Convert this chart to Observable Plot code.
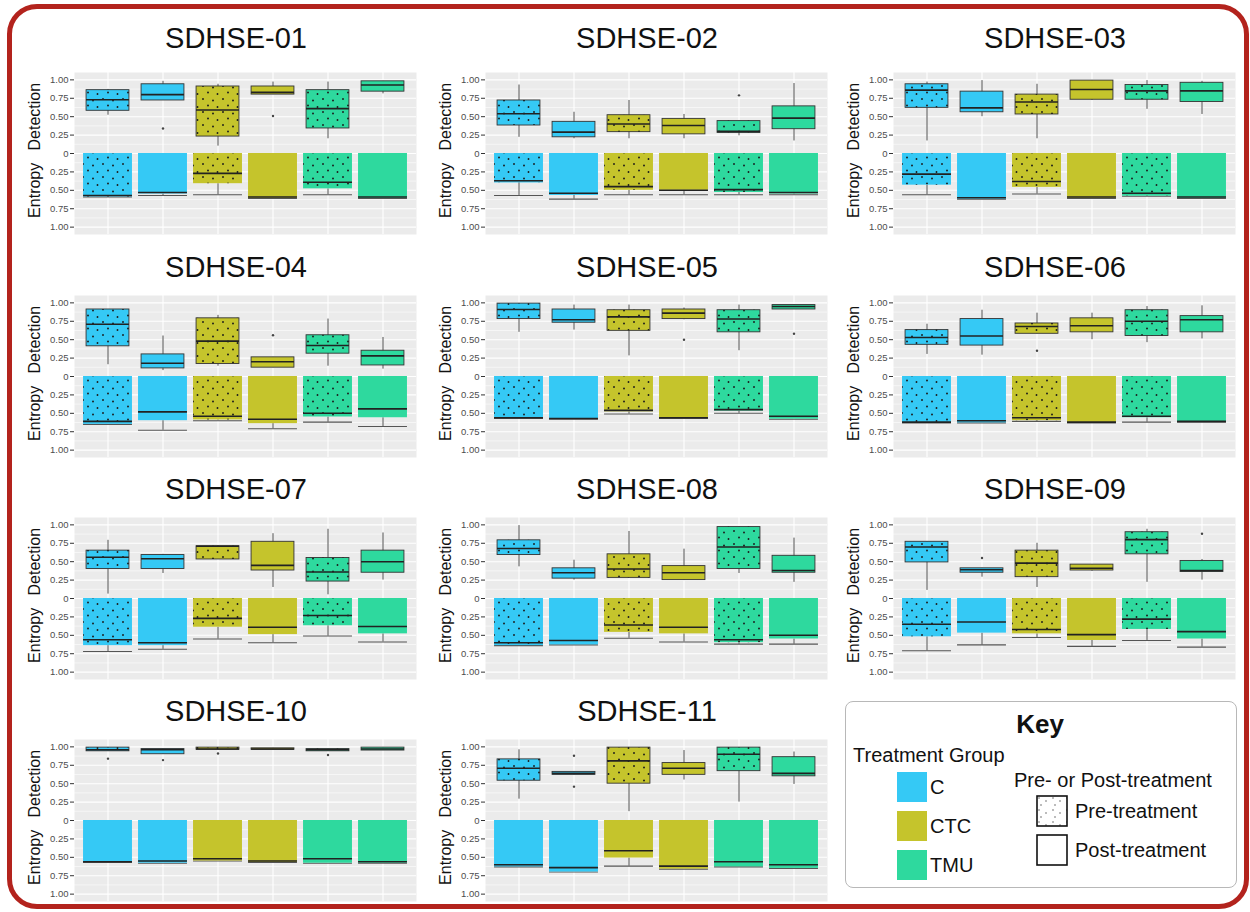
<!DOCTYPE html>
<html><head><meta charset="utf-8">
<script src="https://cdn.jsdelivr.net/npm/d3@7"></script>
<script src="https://cdn.jsdelivr.net/npm/@observablehq/plot@0.6"></script>
<style>
body{margin:0;background:#fff;font-family:"Liberation Sans",Arial,Helvetica,sans-serif;}
#page{position:relative;width:1250px;height:912px;overflow:hidden;background:#fff;}
.frame{position:absolute;left:7px;top:4px;width:1232px;height:895px;border:5px solid #b3231d;border-radius:30px;box-sizing:content-box;}
.t{position:absolute;line-height:1;white-space:nowrap;color:#111;}
.c{transform:translate(-50%,-50%);}
.l{transform:translate(0,-50%);}
.panel{position:absolute;}
.keybox{position:absolute;left:845px;top:701px;width:390px;height:185px;border:1.5px solid #b8b8b8;border-radius:8px;background:#fff;}
.sw{position:absolute;width:30px;height:30px;}
</style></head>
<body>
<svg width="0" height="0" style="position:absolute">
 <defs>
  <pattern id="dots" patternUnits="userSpaceOnUse" width="20" height="13">
   <circle cx="3" cy="3" r="0.95" fill="#1a1a1a"/>
   <circle cx="13" cy="4.5" r="0.95" fill="#1a1a1a"/>
   <circle cx="8" cy="9.5" r="0.95" fill="#1a1a1a"/>
   <circle cx="17.5" cy="11" r="0.95" fill="#1a1a1a"/>
  </pattern>
  <pattern id="keydots" patternUnits="userSpaceOnUse" width="14" height="12">
   <circle cx="3" cy="3" r="0.7" fill="#444"/>
   <circle cx="10" cy="6" r="0.7" fill="#444"/>
   <circle cx="5" cy="10" r="0.7" fill="#444"/>
  </pattern>
 </defs>
</svg>
<div id="page"><div class="frame"></div></div>
<script>
const panels = ["SDHSE-01","SDHSE-02","SDHSE-03","SDHSE-04","SDHSE-05","SDHSE-06","SDHSE-07","SDHSE-08","SDHSE-09","SDHSE-10","SDHSE-11"];
const groups = ["C","CTC","TMU"];
const groupColors = ["#35c9f5","#c5c42c","#2ed99e"];
const phases = ["Pre-treatment","Post-treatment"];
const boxKeys = ["C-pre","C-post","CTC-pre","CTC-post","TMU-pre","TMU-post"];
const majorTicks = [-1,-0.75,-0.5,-0.25,0,0.25,0.5,0.75,1];
const minorTicks = [-0.875,-0.625,-0.375,-0.125,0.125,0.375,0.625,0.875];
const axisLabels = [{y:0.5,label:"Detection"},{y:-0.5,label:"Entropy"}];

// Detection boxes: [lower whisker, Q1, median, Q3, upper whisker]
const detectionStats = [
 [[0.52,0.58,0.73,0.86,0.87],[0.72,0.72,0.80,0.94,0.98],[0.10,0.23,0.59,0.91,0.94],[0.80,0.80,0.83,0.91,0.97],[0.20,0.34,0.61,0.86,0.97],[0.81,0.84,0.93,0.98,0.98]],
 [[0.22,0.38,0.54,0.72,0.93],[0.20,0.22,0.29,0.43,0.56],[0.20,0.29,0.40,0.52,0.72],[0.20,0.26,0.38,0.47,0.53],[0.24,0.28,0.30,0.44,0.44],[0.17,0.33,0.48,0.64,0.95]],
 [[0.17,0.62,0.86,0.94,0.97],[0.50,0.56,0.62,0.84,0.99],[0.20,0.53,0.70,0.80,0.94],[0.72,0.73,0.87,0.99,0.99],[0.60,0.73,0.85,0.93,0.99],[0.53,0.70,0.85,0.96,0.98]],
 [[0.16,0.41,0.71,0.91,0.91],[0.08,0.11,0.18,0.30,0.55],[0.14,0.17,0.48,0.79,0.83],[0.12,0.12,0.20,0.26,0.26],[0.14,0.31,0.42,0.56,0.78],[0.10,0.15,0.28,0.35,0.53]],
 [[0.60,0.78,0.91,0.99,0.99],[0.63,0.73,0.77,0.91,0.97],[0.28,0.62,0.81,0.90,0.97],[0.77,0.78,0.86,0.91,0.93],[0.35,0.60,0.78,0.90,0.97],[0.91,0.91,0.95,0.97,0.97]],
 [[0.30,0.43,0.53,0.63,0.71],[0.29,0.42,0.55,0.78,0.90],[0.58,0.58,0.68,0.72,0.86],[0.50,0.60,0.69,0.79,0.86],[0.46,0.55,0.75,0.90,0.95],[0.51,0.60,0.77,0.82,0.96]],
 [[0.06,0.40,0.56,0.65,0.79],[0.34,0.40,0.54,0.59,0.60],[0.53,0.53,0.71,0.71,0.72],[0.15,0.38,0.45,0.77,0.88],[0.05,0.23,0.36,0.55,0.94],[0.25,0.35,0.50,0.65,0.89]],
 [[0.43,0.59,0.68,0.79,0.99],[0.25,0.27,0.35,0.41,0.52],[0.28,0.28,0.40,0.60,0.91],[0.25,0.25,0.35,0.44,0.67],[0.34,0.40,0.70,0.97,0.97],[0.22,0.35,0.38,0.58,0.82]],
 [[0.11,0.49,0.70,0.77,0.77],[0.29,0.35,0.39,0.41,0.41],[0.15,0.29,0.48,0.65,0.75],[0.37,0.38,0.41,0.46,0.46],[0.22,0.60,0.80,0.90,0.94],[0.25,0.36,0.38,0.51,0.53]],
 [[0.94,0.94,0.96,0.99,0.99],[0.90,0.90,0.96,0.97,0.97],[0.96,0.96,0.97,0.99,0.99],[0.96,0.96,0.97,0.98,0.98],[0.94,0.94,0.96,0.97,0.97],[0.95,0.95,0.97,0.99,0.99]],
 [[0.29,0.54,0.71,0.83,0.96],[0.62,0.62,0.64,0.66,0.66],[0.12,0.50,0.81,0.99,0.99],[0.55,0.62,0.71,0.78,0.95],[0.25,0.67,0.90,0.99,0.99],[0.49,0.60,0.64,0.86,0.93]]
];
const detectionOutliers = [
 [[],[0.34],[],[0.51],[],[]],
 [[],[],[],[],[0.79],[]],
 [[],[],[],[],[],[]],
 [[],[],[],[0.56],[],[]],
 [[],[],[],[0.50],[],[0.58]],
 [[],[],[0.35],[],[],[]],
 [[],[],[],[],[],[]],
 [[],[],[],[],[],[]],
 [[],[0.55],[],[],[],[0.88]],
 [[0.84],[0.82],[0.91],[],[0.89],[]],
 [[],[0.88,0.46],[],[],[],[]]
];
// Entropy boxes (drawn downward from 0): [median, Q3, upper whisker]
const entropyStats = [
 [[0.57,0.59,0.59],[0.53,0.55,0.57],[0.27,0.41,0.56],[0.59,0.61,0.61],[0.39,0.48,0.56],[0.59,0.61,0.61]],
 [[0.37,0.40,0.57],[0.54,0.57,0.62],[0.45,0.50,0.56],[0.50,0.50,0.56],[0.49,0.53,0.56],[0.53,0.55,0.56]],
 [[0.28,0.43,0.56],[0.60,0.62,0.62],[0.38,0.46,0.55],[0.59,0.61,0.61],[0.54,0.58,0.58],[0.59,0.61,0.61]],
 [[0.61,0.65,0.65],[0.48,0.60,0.73],[0.54,0.59,0.60],[0.58,0.64,0.71],[0.50,0.55,0.62],[0.44,0.56,0.68]],
 [[0.56,0.57,0.57],[0.57,0.58,0.58],[0.46,0.48,0.51],[0.56,0.57,0.57],[0.45,0.47,0.50],[0.54,0.58,0.58]],
 [[0.62,0.63,0.63],[0.60,0.63,0.63],[0.56,0.60,0.61],[0.62,0.63,0.63],[0.54,0.56,0.62],[0.61,0.62,0.62]],
 [[0.56,0.64,0.72],[0.60,0.64,0.69],[0.27,0.39,0.55],[0.39,0.49,0.60],[0.23,0.37,0.51],[0.38,0.48,0.59]],
 [[0.60,0.64,0.64],[0.57,0.63,0.63],[0.36,0.46,0.54],[0.39,0.48,0.59],[0.56,0.60,0.62],[0.50,0.55,0.62]],
 [[0.35,0.52,0.71],[0.32,0.47,0.63],[0.42,0.48,0.53],[0.49,0.57,0.65],[0.28,0.42,0.57],[0.45,0.55,0.66]],
 [[0.56,0.57,0.57],[0.55,0.58,0.58],[0.52,0.55,0.55],[0.55,0.57,0.57],[0.52,0.58,0.58],[0.56,0.58,0.58]],
 [[0.60,0.63,0.63],[0.64,0.70,0.70],[0.41,0.51,0.62],[0.62,0.66,0.66],[0.56,0.63,0.63],[0.60,0.65,0.65]]
];
const entropyDotted = [true,true,true,true,true,true,true,true,true,false,false];

// layout
const colLefts = [74, 485, 893];
const rowTops = [71.6, 294.6, 516.6, 738.6];
const titleYs = [38, 267, 489, 711];
const plotW = 342, plotH = 162, mL = 74, mR = 4, mT = 2, mB = 2;
const step = plotW / 6.2;
const dIn = step * 0.11, eIn = step * 0.055;
const font = '"Liberation Sans", Arial, Helvetica, sans-serif';
const page = document.getElementById("page");

function addText(txt, x, y, cls, style) {
  const d = document.createElement("div");
  d.className = "t " + cls;
  d.textContent = txt;
  d.style.left = x + "px"; d.style.top = y + "px";
  Object.assign(d.style, style || {});
  page.appendChild(d);
  return d;
}

panels.forEach((name, pi) => {
  const col = pi % 3, row = Math.floor(pi / 3);
  const det = [], out = [], ent = [];
  boxKeys.forEach((k, j) => {
    const g = groups[Math.floor(j / 2)];
    const pre = j % 2 === 0;
    const [lo, q1, med, q3, hi] = detectionStats[pi][j];
    det.push({key: k, group: g, pre, lo, q1, med, q3, hi});
    detectionOutliers[pi][j].forEach(v => out.push({key: k, v}));
    const [em, eq3, emax] = entropyStats[pi][j];
    ent.push({key: k, group: g, pre, med: -em, q3: -eq3, max: -emax, zero: 0});
  });
  const detPre = det.filter(d => d.pre);
  const entPre = entropyDotted[pi] ? ent.filter(d => d.pre) : [];

  const svg = Plot.plot({
    width: mL + plotW + mR, height: plotH + mT + mB,
    marginLeft: mL, marginRight: mR, marginTop: mT, marginBottom: mB,
    style: {fontFamily: font, color: "#111", background: "transparent", overflow: "visible"},
    x: {type: "band", domain: boxKeys, paddingInner: 0, paddingOuter: 0.1, axis: null},
    y: {domain: [-1.1, 1.1], axis: null, label: null},
    color: {domain: groups, range: groupColors},
    marks: [
      Plot.frame({fill: "#ebebeb", stroke: "none"}),
      Plot.ruleY(minorTicks, {stroke: "#fff", strokeWidth: 0.55}),
      Plot.ruleY(majorTicks, {stroke: "#fff", strokeWidth: 1.1}),
      Plot.ruleX(boxKeys, {x: d => d, stroke: "#fff", strokeWidth: 1.1}),
      Plot.axisY(majorTicks, {anchor: "left", tickSize: 4, tickPadding: 2, fontSize: 9.5, fill: "#4d4d4d", stroke: "#333",
        tickFormat: d => d === 0 ? "0" : Math.abs(d).toFixed(2), label: null}),
      Plot.text(axisLabels, {y: "y", text: "label", frameAnchor: "left", textAnchor: "middle", lineAnchor: "middle", dx: -40, rotate: -90, fontSize: 16, fill: "#111"}),
      // Detection
      Plot.ruleX(det, {x: "key", y1: "lo", y2: "hi", stroke: "#3a3a3a", strokeWidth: 0.9}),
      Plot.barY(det, {x: "key", y1: "q1", y2: "q3", fill: "group", stroke: "#333", strokeWidth: 0.9, insetLeft: dIn, insetRight: dIn}),
      Plot.barY(detPre, {x: "key", y1: "q1", y2: "q3", fill: "url(#dots)", insetLeft: dIn, insetRight: dIn}),
      Plot.tickY(det, {x: "key", y: "med", stroke: "#222", strokeWidth: 1.6, insetLeft: dIn, insetRight: dIn}),
      Plot.dot(out, {x: "key", y: "v", r: 1.2, fill: "#444", stroke: "none"}),
      // Entropy
      Plot.tickY(ent, {x: "key", y: "max", stroke: "#555", strokeWidth: 1.1, insetLeft: eIn, insetRight: eIn}),
      Plot.ruleX(ent, {x: "key", y1: "q3", y2: "max", stroke: "#3a3a3a", strokeWidth: 0.9}),
      Plot.barY(ent, {x: "key", y1: "zero", y2: "q3", fill: "group", insetLeft: eIn, insetRight: eIn}),
      Plot.barY(entPre, {x: "key", y1: "zero", y2: "q3", fill: "url(#dots)", insetLeft: eIn, insetRight: eIn}),
      Plot.tickY(ent, {x: "key", y: "med", stroke: "#222", strokeWidth: 1.6, insetLeft: eIn, insetRight: eIn})
    ]
  });
  const wrap = document.createElement("div");
  wrap.className = "panel";
  wrap.style.left = (colLefts[col] - mL) + "px";
  wrap.style.top = (rowTops[row] - mT) + "px";
  wrap.appendChild(svg);
  page.appendChild(wrap);
  addText(name, colLefts[col] + 162, titleYs[row], "c", {fontSize: "29px"});
});

// Key
const kb = document.createElement("div"); kb.className = "keybox"; page.appendChild(kb);
addText("Key", 1040, 724, "c", {fontSize: "26px", fontWeight: "bold"});
addText("Treatment Group", 853, 755, "l", {fontSize: "20px"});
groups.forEach((g, i) => {
  const s = document.createElement("div"); s.className = "sw";
  s.style.left = "897px"; s.style.top = (772 + i * 39) + "px"; s.style.background = groupColors[i];
  page.appendChild(s);
  addText(g, 930, 787 + i * 39, "l", {fontSize: "20px"});
});
addText("Pre- or Post-treatment", 1014, 780, "l", {fontSize: "20px"});
phases.forEach((p, i) => {
  const ns = "http://www.w3.org/2000/svg";
  const s = document.createElementNS(ns, "svg");
  s.setAttribute("width", 32); s.setAttribute("height", 32);
  s.style.position = "absolute"; s.style.left = "1036px"; s.style.top = (795 + i * 39) + "px";
  const r = document.createElementNS(ns, "rect");
  r.setAttribute("x", 1); r.setAttribute("y", 1); r.setAttribute("width", 30); r.setAttribute("height", 30);
  r.setAttribute("fill", i === 0 ? "url(#keydots)" : "#fff");
  r.setAttribute("stroke", "#111"); r.setAttribute("stroke-width", 1.6);
  s.appendChild(r); page.appendChild(s);
  addText(p, 1075, 811 + i * 39, "l", {fontSize: "20px"});
});
</script>
</body></html>
